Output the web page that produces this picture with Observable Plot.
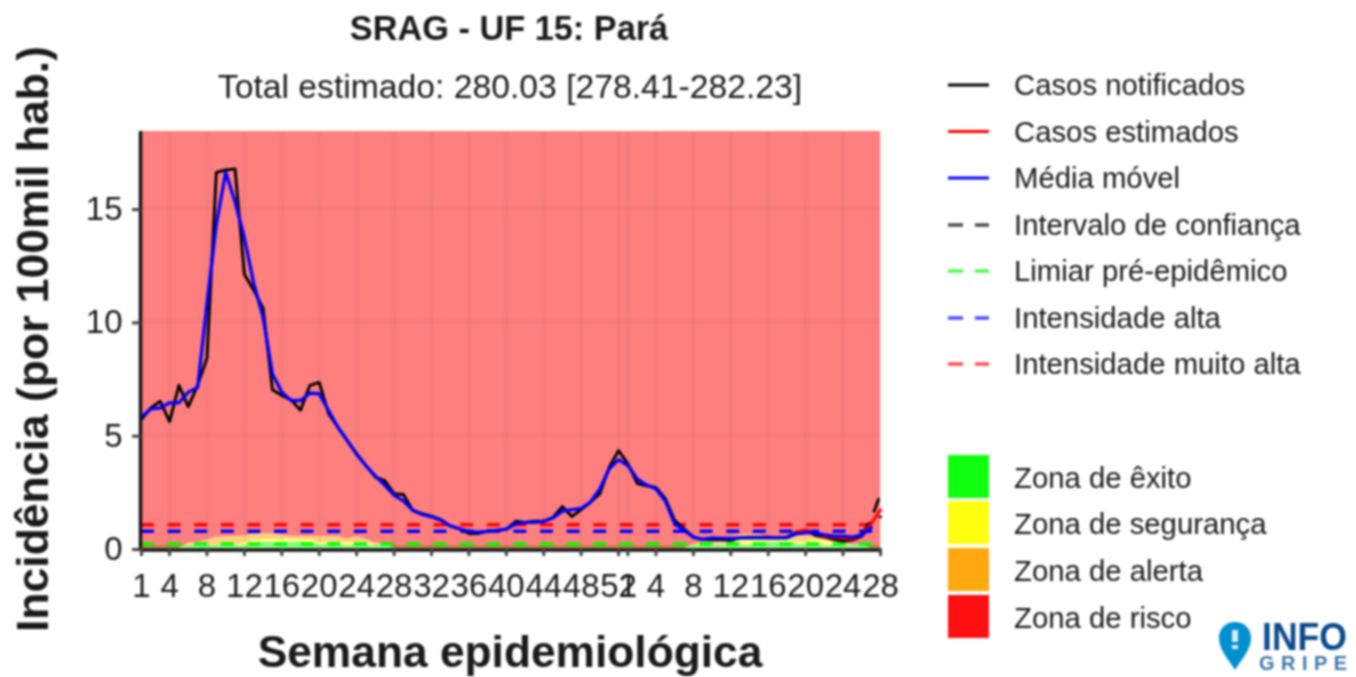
<!DOCTYPE html>
<html lang="pt">
<head>
<meta charset="utf-8">
<script src="https://cdn.jsdelivr.net/npm/d3@7"></script>
<script src="https://cdn.jsdelivr.net/npm/@observablehq/plot@0.6"></script>
<style>
html,body{margin:0;padding:0;background:#fff;overflow:hidden}
#chart{width:1356px;height:677px;filter:blur(0.8px)}
text{font-family:"Liberation Sans",Arimo,Helvetica,Arial,sans-serif}
</style>
</head>
<body>
<div id="chart"></div>
<script>
const titleText = "SRAG - UF 15: Pará";
const subtitleText = "Total estimado: 280.03 [278.41-282.23]";
const yLabel = "Incidência (por 100mil hab.)";
const xLabel = "Semana epidemiológica";

// running week index 1..80 = weeks 1-52 of the first year, 1-28 of the second
const notified = [5.7,6.2,6.5,5.6,7.2,6.26,7.2,8.4,16.6,16.7,16.75,12.1,11.4,10.6,7.0,6.75,6.55,6.1,7.2,7.33,
  5.95,5.35,4.76,4.18,3.66,3.15,3.0,2.42,2.38,1.68,1.54,1.43,1.28,1.0,0.87,0.66,0.66,0.78,0.8,0.85,
  1.2,1.15,1.2,1.2,1.38,1.85,1.41,1.72,2.04,2.42,3.59,4.32,3.74,2.86,2.77,2.7,2.2,1.24,0.87,0.5,
  0.39,0.38,0.38,0.36,0.48,0.5,0.5,0.5,0.47,0.5,0.7,0.82,0.58,0.5,0.4,0.33,0.38,0.55,1.15];
const movingAvg = [5.8,6.16,6.2,6.43,6.43,6.9,7.1,10.8,14.3,16.6,15.3,13.7,11.7,10.2,7.7,6.9,6.53,6.53,6.85,6.83,
  6.09,5.35,4.76,4.15,3.65,3.2,2.8,2.35,2.1,1.68,1.5,1.4,1.25,1.0,0.87,0.75,0.72,0.75,0.8,0.85,
  1.09,1.15,1.15,1.2,1.35,1.65,1.72,1.77,2.05,2.63,3.52,3.92,3.66,3.07,2.8,2.63,2.1,1.09,0.8,0.5,
  0.4,0.47,0.45,0.45,0.47,0.47,0.47,0.47,0.47,0.47,0.65,0.7,0.7,0.6,0.55,0.55,0.5,0.6,0.93];
const estWeeks = [71,72,73,74,75,76,77,78,79,80];
const estimated = [0.75,0.8,0.7,0.55,0.5,0.45,0.45,0.6,1.1,1.7];
const ciWeeks = [78,79,80];
const ciUpper = [0.6,1.3,2.4];
const ciLower = [0.55,1.0,1.4];

const thrPre = 0.2, thrHigh = 0.76, thrVeryHigh = 1.05;
const yTop = 18.4;

// upper limit of each activity zone, per week
const zoneGreen = [.12,.12,.12,.12,.12,.12,.12,.12,.12,.12,.12,.12,.2,.27,.27,.27,.27,.27,.27,.15,
  .15,.15,.12,.12,.12,.12,.12,.12,.12,.12,.12,.12,.12,.12,.12,.12,.12,.12,.12,.12,
  .12,.12,.12,.12,.12,.12,.12,.12,.12,.12,.12,.12,.12,.12,.12,.12,.12,.12,.12,.12,
  .12,.12,.12,.12,.12,.15,.2,.25,.27,.27,.2,.15,.15,.12,.12,.12,.12,.12,.12,.12];
const zoneYellow = [.12,.12,.12,.12,.12,.12,.12,.12,.12,.12,.12,.26,.35,.4,.4,.4,.4,.4,.4,.26,
  .26,.26,.26,.26,.26,.12,.12,.12,.12,.12,.12,.12,.12,.12,.12,.12,.12,.12,.12,.12,
  .12,.12,.12,.12,.12,.12,.12,.12,.12,.12,.12,.12,.12,.12,.12,.12,.12,.12,.12,.12,
  .12,.12,.12,.2,.35,.35,.35,.35,.35,.35,.3,.3,.35,.35,.25,.12,.12,.12,.12,.12];
const zoneOrange = [.12,.12,.12,.12,.12,.25,.25,.38,.5,.53,.53,.55,.62,.65,.65,.6,.53,.53,.53,.53,
  .53,.53,.42,.53,.4,.25,.2,.12,.12,.12,.12,.12,.12,.12,.12,.12,.12,.12,.12,.12,
  .12,.12,.12,.12,.12,.12,.12,.12,.12,.12,.12,.12,.12,.12,.12,.12,.12,.12,.12,.2,
  .25,.45,.45,.5,.6,.62,.6,.5,.5,.5,.55,.55,.55,.45,.3,.2,.18,.15,.12,.12];

const tickPositions = [1,4,8,12,16,20,24,28,32,36,40,44,48,52,53,56,60,64,68,72,76,80];
const tickLabels =    [1,4,8,12,16,20,24,28,32,36,40,44,48,52,1,4,8,12,16,20,24,28];
const yTicks = [0,5,10,15];

const lineKeys = [
  ["Casos notificados","#000000",false],
  ["Casos estimados","#ff0000",false],
  ["Média móvel","#0000ff",false],
  ["Intervalo de confiança","#000000",true],
  ["Limiar pré-epidêmico","#00ff00",true],
  ["Intensidade alta","#0000ff",true],
  ["Intensidade muito alta","#ff0000",true]
];
const zoneKeys = [
  ["Zona de êxito","#0fff0f"],
  ["Zona de segurança","#ffff0f"],
  ["Zona de alerta","#ffa80f"],
  ["Zona de risco","#ff0f0f"]
];

const weeks = d3.range(1, 81);
const w = i => weeks[i];
const dash = "13,13.6";
const idx = arr => arr.map((_, i) => i);

const plot = Plot.plot({
  width: 1356, height: 677,
  marginLeft: 141, marginRight: 476, marginTop: 131, marginBottom: 129,
  style: {background: "#fff", fontFamily: "Liberation Sans", overflow: "visible"},
  x: {domain: [1, 80]},
  y: {domain: [0, yTop]},
  marks: [
    Plot.areaY(idx(weeks), {x: w, y1: 0, y2: i => zoneGreen[i], fill: "#00ff00", fillOpacity: .5}),
    Plot.areaY(idx(weeks), {x: w, y1: i => zoneGreen[i], y2: i => zoneYellow[i], fill: "#ffff00", fillOpacity: .5}),
    Plot.areaY(idx(weeks), {x: w, y1: i => zoneYellow[i], y2: i => zoneOrange[i], fill: "#ffa500", fillOpacity: .5}),
    Plot.areaY(idx(weeks), {x: w, y1: i => zoneOrange[i] <= .12 ? 0 : zoneOrange[i], y2: yTop, fill: "#ff0000", fillOpacity: .5}),
    Plot.ruleX(tickPositions, {stroke: "#000", strokeOpacity: .03, strokeWidth: 5}),
    Plot.ruleY(yTicks.slice(1), {stroke: "#000", strokeOpacity: .03, strokeWidth: 4}),
    Plot.ruleY([thrPre], {stroke: "#00ff00", strokeWidth: 3.6, strokeDasharray: dash}),
    Plot.ruleY([thrHigh], {stroke: "#0000ff", strokeWidth: 3.6, strokeDasharray: dash}),
    Plot.ruleY([thrVeryHigh], {stroke: "#ff0000", strokeWidth: 3.6, strokeDasharray: dash}),
    Plot.line(idx(ciWeeks), {x: i => ciWeeks[i], y: i => ciUpper[i], stroke: "#000", strokeWidth: 2.8, strokeDasharray: dash}),
    Plot.line(idx(ciWeeks), {x: i => ciWeeks[i], y: i => ciLower[i], stroke: "#000", strokeWidth: 2.8, strokeDasharray: dash}),
    Plot.line(idx(notified), {x: w, y: i => notified[i], stroke: "#000", strokeWidth: 2.9}),
    Plot.line(idx(estWeeks), {x: i => estWeeks[i], y: i => estimated[i], stroke: "#ff0000", strokeWidth: 3}),
    Plot.line(idx(movingAvg), {x: w, y: i => movingAvg[i], stroke: "#0000ff", strokeWidth: 3.3}),
    Plot.ruleX([1], {stroke: "#111", strokeWidth: 3.4, dx: -1}),
    Plot.ruleY([0], {stroke: "#111", strokeWidth: 3.4, dy: 1.5}),
    Plot.axisX({ticks: tickPositions, tickFormat: d => tickLabels[tickPositions.indexOf(d)], label: null,
      fontSize: 33, tickSize: 8, tickPadding: 17, stroke: "#444", strokeWidth: 3, fill: "#1a1a1a", textStroke: "none"}),
    Plot.axisY({ticks: yTicks, label: null, fontSize: 33, tickSize: 9, tickPadding: 10, dy: 1, stroke: "#444", strokeWidth: 3, fill: "#1a1a1a"})
  ]
});
document.getElementById("chart").appendChild(plot);

const svg = d3.select(plot).append("g").attr("class", "annot");
const label = (s, x, y, size, weight, anchor) => svg.append("text").text(s)
  .attr("x", x).attr("y", y).attr("font-size", size).attr("font-weight", weight)
  .attr("text-anchor", anchor).attr("fill", "#1a1a1a");

label(titleText, 509, 40, 34.3, "bold", "middle");
label(subtitleText, 510, 98, 33.7, "normal", "middle");
label(xLabel, 510, 667, 44.3, "bold", "middle");
label(yLabel, 0, 0, 44.5, "bold", "middle").attr("transform", "translate(48,339) rotate(-90)");

const lineY = [85, 131.5, 178, 225, 271, 318, 364];
lineKeys.forEach(([name, color, dashed], i) => {
  svg.append("line").attr("x1", 948).attr("x2", 989).attr("y1", lineY[i]).attr("y2", lineY[i])
    .attr("stroke", color).attr("stroke-width", dashed ? 3.4 : 3)
    .attr("stroke-opacity", dashed ? .7 : 1)
    .attr("stroke-dasharray", dashed ? "15,12,14" : null);
  label(name, 1014, lineY[i] + 10, 29.3, "normal", "start");
});
const zoneY = [455, 501, 548, 595];
zoneKeys.forEach(([name, color], i) => {
  svg.append("rect").attr("x", 948).attr("y", zoneY[i]).attr("width", 41).attr("height", 43).attr("fill", color);
  label(name, 1014, zoneY[i] + 33, 29.3, "normal", "start");
});

// InfoGripe logo
const logo = svg.append("g");
logo.append("path").attr("fill", "#0090d0")
  .attr("d", "M1235,622 C1245,622 1251,629 1251,638 C1251,650 1241,660 1235,670 C1229,660 1219,650 1219,638 C1219,629 1225,622 1235,622 Z");
logo.append("rect").attr("x", 1232).attr("y", 630).attr("width", 6).attr("height", 12).attr("fill", "#d8eef8");
logo.append("rect").attr("x", 1232).attr("y", 645).attr("width", 6).attr("height", 4).attr("fill", "#d8eef8");
logo.append("text").text("INFO").attr("x", 1262).attr("y", 650).attr("font-size", 38).attr("font-weight", "bold")
  .attr("text-anchor", "start").attr("textLength", 85).attr("lengthAdjust", "spacingAndGlyphs").attr("fill", "#0b4a8c");
logo.append("text").text("GRIPE").attr("x", 1259).attr("y", 670).attr("font-size", 20).attr("font-weight", "bold")
  .attr("text-anchor", "start").attr("textLength", 88).attr("fill", "#3f76ac");
</script>
</body>
</html>
